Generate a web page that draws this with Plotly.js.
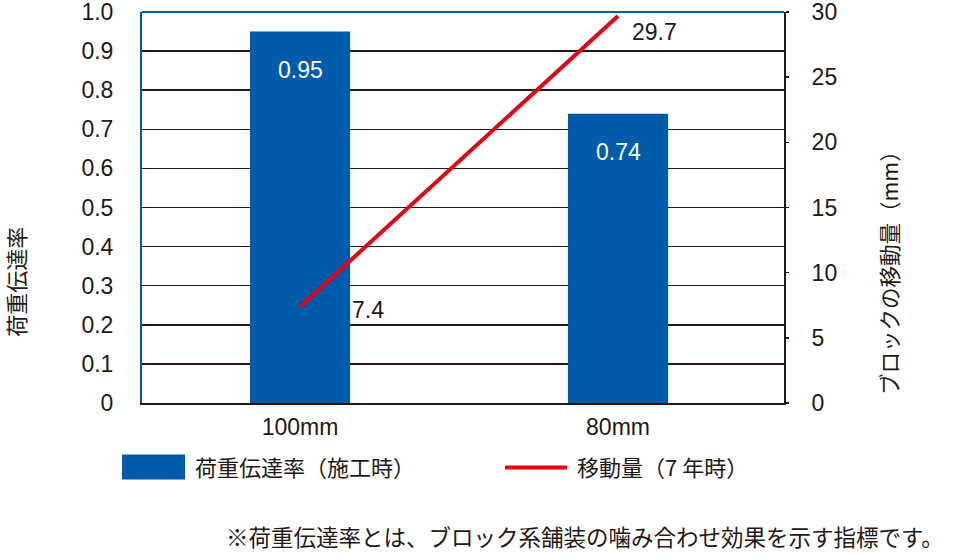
<!DOCTYPE html>
<html>
<head>
<meta charset="utf-8">
<script src="https://cdn.plot.ly/plotly-3.0.1.min.js"></script>
<style>html,body{margin:0;padding:0;background:#fff;}#chart{width:972px;height:559px;}</style>
</head>
<body>
<div id="chart"></div>
<script>
const categories = ["100mm", "80mm"];
const loadTransferRate = [0.95, 0.74];
const displacement = [7.4, 29.7];
const leftTicks = [0, 0.1, 0.2, 0.3, 0.4, 0.5, 0.6, 0.7, 0.8, 0.9, 1.0];
const leftTickText = ["0", "0.1", "0.2", "0.3", "0.4", "0.5", "0.6", "0.7", "0.8", "0.9", "1.0"];
const rightTicks = [0, 5, 10, 15, 20, 25, 30];
const seriesNames = ["荷重伝達率（施工時）", "移動量（7 年時）"];
const leftTitle = "荷重伝達率";
const rightTitle = "ブロックの移動量（mm）";
const footnote = "※荷重伝達率とは、ブロック系舗装の噛み合わせ効果を示す指標です。";

const BLUE = "#005BAB";
const RED = "#E50012";
const INK = "#231815";
const NUM_FONT = "Liberation Sans, Arial, sans-serif";
const JP_FONT = "Noto Sans CJK JP, sans-serif";

const traces = [
  {
    type: "bar", x: categories, y: loadTransferRate, name: seriesNames[0],
    marker: {color: BLUE}, width: 0.315, yaxis: "y", hoverinfo: "skip"
  },
  {
    type: "scatter", mode: "lines", x: categories, y: displacement, name: seriesNames[1],
    line: {color: RED, width: 4}, yaxis: "y2", hoverinfo: "skip"
  }
];

const annotations = [];
categories.forEach((c, i) => {
  annotations.push({
    x: c, y: loadTransferRate[i], xref: "x", yref: "y", text: loadTransferRate[i].toFixed(2),
    showarrow: false, yshift: -38, xanchor: "center", yanchor: "middle",
    font: {family: NUM_FONT, size: 23, color: "#fff"}
  });
});
annotations.push({
  x: categories[0], y: displacement[0], xref: "x", yref: "y2", text: String(displacement[0]),
  showarrow: false, xanchor: "left", yanchor: "middle", xshift: 50, yshift: -3,
  font: {family: NUM_FONT, size: 23, color: INK}
});
annotations.push({
  x: categories[1], y: displacement[1], xref: "x", yref: "y2", text: String(displacement[1]),
  showarrow: false, xanchor: "left", yanchor: "middle", xshift: 12, yshift: -16,
  font: {family: NUM_FONT, size: 23, color: INK}
});
// axis titles
annotations.push({
  x: -0.198, y: 0.31, xref: "paper", yref: "paper", text: leftTitle, textangle: -90,
  xanchor: "center", yanchor: "middle",
  showarrow: false, font: {family: JP_FONT, size: 22, color: INK}
});
annotations.push({
  x: 1.162, y: 0.345, xref: "paper", yref: "paper", text: rightTitle, textangle: -90,
  xanchor: "center", yanchor: "middle",
  showarrow: false, font: {family: JP_FONT, size: 21.5, color: INK}
});
// legend text
annotations.push({
  x: 0.0794, y: -0.162, xref: "paper", yref: "paper", text: seriesNames[0], xanchor: "left", yanchor: "middle",
  showarrow: false, font: {family: JP_FONT, size: 22, color: INK}
});
annotations.push({
  x: 0.6745, y: -0.162, xref: "paper", yref: "paper", text: seriesNames[1], xanchor: "left", yanchor: "middle",
  showarrow: false, font: {family: JP_FONT, size: 22, color: INK}
});
// footnote
annotations.push({
  x: 1.253, y: -0.34, xref: "paper", yref: "paper", text: footnote, xanchor: "right", yanchor: "middle",
  showarrow: false, font: {family: JP_FONT, size: 22.5, color: INK}
});

const shapes = [
  {type: "line", xref: "paper", yref: "paper", x0: 0, x1: 1, y0: 1, y1: 1, line: {color: BLUE, width: 2}, layer: "above"},
  {type: "rect", xref: "paper", yref: "paper", x0: -0.0312, x1: 0.067, y0: -0.1954, y1: -0.132, fillcolor: BLUE, line: {width: 0}},
  {type: "line", xref: "paper", yref: "paper", x0: 0.5654, x1: 0.662, y0: -0.165, y1: -0.165, line: {color: RED, width: 4}}
];

const layout = {
  width: 972, height: 559,
  margin: {l: 142, r: 188, t: 12, b: 156},
  paper_bgcolor: "#fff", plot_bgcolor: "#fff",
  showlegend: false,
  xaxis: {
    type: "category", range: [-0.497, 1.522], showgrid: false,
    showline: true, linecolor: INK, linewidth: 2,
    ticks: "", tickfont: {family: NUM_FONT, size: 23, color: INK}, ticklabelstandoff: 2,
    fixedrange: true
  },
  yaxis: {
    range: [0, 1.0], tickvals: leftTicks, ticktext: leftTickText,
    showgrid: true, gridcolor: INK, gridwidth: 1.5,
    zeroline: false, showline: true, linecolor: BLUE, linewidth: 2,
    ticks: "", tickfont: {family: NUM_FONT, size: 23, color: INK}, ticklabelstandoff: 22,
    ticklabeloverflow: "allow",
    fixedrange: true
  },
  yaxis2: {
    overlaying: "y", side: "right", range: [0, 30], tickvals: rightTicks,
    showgrid: false, zeroline: false, showline: true, linecolor: INK, linewidth: 2,
    ticks: "outside", ticklen: 3, tickcolor: INK, tickwidth: 1.5,
    tickfont: {family: NUM_FONT, size: 23, color: INK}, ticklabelstandoff: 18,
    ticklabeloverflow: "allow",
    fixedrange: true
  },
  annotations: annotations,
  shapes: shapes
};

Plotly.newPlot("chart", traces, layout, {displayModeBar: false, staticPlot: true});
</script>
</body>
</html>
